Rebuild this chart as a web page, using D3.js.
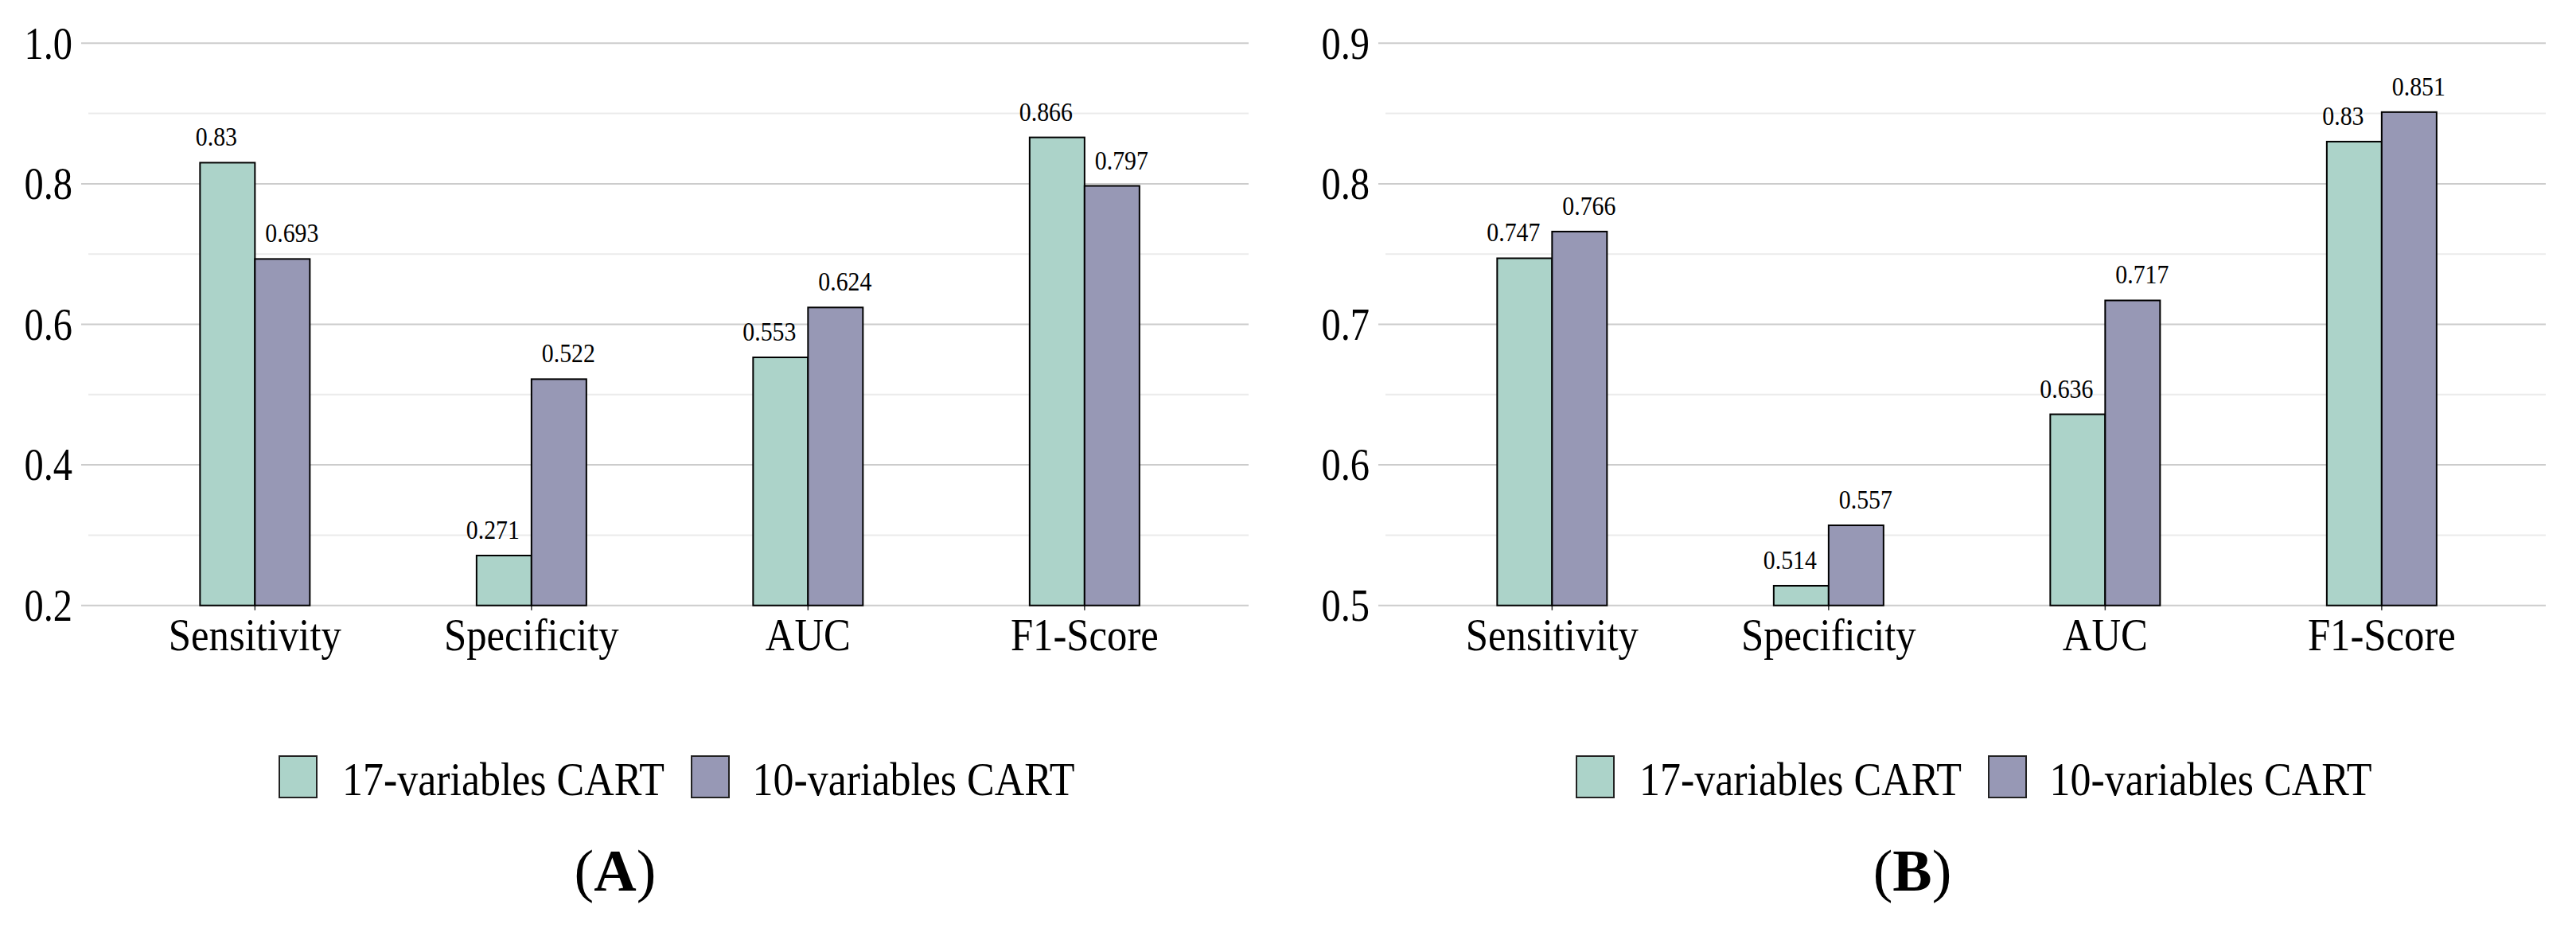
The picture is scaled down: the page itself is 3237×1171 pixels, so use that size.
<!DOCTYPE html>
<html>
<head>
<meta charset="utf-8">
<script src="https://cdn.jsdelivr.net/npm/d3@7"></script>
<style>
  html, body { margin: 0; padding: 0; background: #ffffff; }
  svg { display: block; }
</style>
</head>
<body>
<script>
// ---------- data ----------
const categories = ["Sensitivity", "Specificity", "AUC", "F1-Score"];
const seriesNames = ["17-variables CART", "10-variables CART"];
const valuesA17 = [0.83, 0.271, 0.553, 0.866];
const valuesA10 = [0.693, 0.522, 0.624, 0.797];
const valuesB17 = [0.747, 0.514, 0.636, 0.83];
const valuesB10 = [0.766, 0.557, 0.717, 0.851];
const domainA = [0.2, 1.0];
const domainB = [0.5, 0.9];
const ticksA = [0.2, 0.4, 0.6, 0.8, 1.0];
const minorTicksA = [0.3, 0.5, 0.7, 0.9];
const ticksB = [0.5, 0.6, 0.7, 0.8, 0.9];
const minorTicksB = [0.55, 0.65, 0.75, 0.85];
const panelLetters = ["A", "B"];

// ---------- style / layout ----------
const W = 3237, H = 1171;
const FONT = '"Liberation Serif", "Times New Roman", Times, serif';
const colors = ["#acd3c9", "#9798b5"];
const plotTop = 54.3, plotBottom = 760.7;
const gridLeft = 102, minorLeft = 111, gridRight = 1569;
const bandLeft = 146.6, bandRight = 1536.6;
const barW = 69;
const panelShift = 1630;

const svg = d3.select("body").append("svg")
  .attr("width", W).attr("height", H)
  .attr("viewBox", `0 0 ${W} ${H}`);
svg.append("rect").attr("width", W).attr("height", H).attr("fill", "#fff");

function sqText(sel, x, y, sx) {
  return sel.attr("x", 0).attr("y", 0)
    .attr("transform", `translate(${x},${y}) scale(${sx},1)`);
}

const panels = [
  { dx: 0, vals: [valuesA17, valuesA10], domain: domainA, ticks: ticksA, minor: minorTicksA, letter: panelLetters[0] },
  { dx: panelShift, vals: [valuesB17, valuesB10], domain: domainB, ticks: ticksB, minor: minorTicksB, letter: panelLetters[1] }
];

panels.forEach(p => {
  const g = svg.append("g").attr("transform", `translate(${p.dx},0)`);
  const y = d3.scaleLinear().domain(p.domain).range([plotBottom, plotTop]);
  const x = d3.scaleBand().domain(categories).range([bandLeft, bandRight]);
  const xs = d3.scaleBand().domain(seriesNames).range([0, 2 * barW]);
  const fmt = d3.format(".1f");

  // minor gridlines
  g.append("g").selectAll("line").data(p.minor).join("line")
    .attr("x1", minorLeft).attr("x2", gridRight)
    .attr("y1", d => y(d)).attr("y2", d => y(d))
    .attr("stroke", "#ebebeb").attr("stroke-width", 2);

  // major gridlines
  g.append("g").selectAll("line").data(p.ticks).join("line")
    .attr("x1", gridLeft).attr("x2", gridRight)
    .attr("y1", d => y(d)).attr("y2", d => y(d))
    .attr("stroke", "#cccccc").attr("stroke-width", 2);

  // y tick labels
  g.append("g").selectAll("text").data(p.ticks).join("text")
    .each(function (d) { sqText(d3.select(this), 91, y(d), 0.85); })
    .attr("text-anchor", "end")
    .attr("dominant-baseline", "central")
    .attr("font-family", FONT).attr("font-size", 57).attr("fill", "#000")
    .text(d => fmt(d));

  // x ticks
  g.append("g").selectAll("line").data(categories).join("line")
    .attr("x1", d => x(d) + x.bandwidth() / 2).attr("x2", d => x(d) + x.bandwidth() / 2)
    .attr("y1", plotBottom).attr("y2", plotBottom + 6)
    .attr("stroke", "#333").attr("stroke-width", 1.5);

  // bars
  const rows = [];
  seriesNames.forEach((s, si) => {
    categories.forEach((c, ci) => rows.push({ s, si, c, v: p.vals[si][ci] }));
  });
  const bx = d => x(d.c) + x.bandwidth() / 2 - barW + xs(d.s);
  g.append("g").selectAll("rect").data(rows).join("rect")
    .attr("x", bx)
    .attr("y", d => y(d.v))
    .attr("width", xs.bandwidth())
    .attr("height", d => y(p.domain[0]) - y(d.v))
    .attr("fill", d => colors[d.si])
    .attr("stroke", "#000").attr("stroke-width", 2);

  // value labels
  g.append("g").selectAll("text").data(rows).join("text")
    .each(function (d) {
      const cx = bx(d) + xs.bandwidth() / 2 + (d.si === 0 ? -14 : 12);
      sqText(d3.select(this), cx, y(d.v) - 21, 0.89);
    })
    .attr("text-anchor", "middle")
    .attr("font-family", FONT).attr("font-size", 33.5).attr("fill", "#000")
    .text(d => String(d.v));

  // x category labels
  g.append("g").selectAll("text").data(categories).join("text")
    .each(function (d) { sqText(d3.select(this), x(d) + x.bandwidth() / 2, 817, 0.89); })
    .attr("text-anchor", "middle")
    .attr("font-family", FONT).attr("font-size", 57).attr("fill", "#000")
    .text(d => d);

  // legend
  const legendItems = [
    { name: seriesNames[0], color: colors[0], sw: 351, tx: 430 },
    { name: seriesNames[1], color: colors[1], sw: 869, tx: 945.5 }
  ];
  const lg = g.append("g");
  lg.selectAll("rect").data(legendItems).join("rect")
    .attr("x", d => d.sw).attr("y", 950)
    .attr("width", 47).attr("height", 52)
    .attr("fill", d => d.color)
    .attr("stroke", "#222").attr("stroke-width", 2);
  lg.selectAll("text").data(legendItems).join("text")
    .each(function (d) { sqText(d3.select(this), d.tx, 999, 0.88); })
    .attr("font-family", FONT).attr("font-size", 59).attr("fill", "#000")
    .text(d => d.name);

  // panel letter
  const t = g.append("text")
    .attr("x", 773).attr("y", 1119)
    .attr("text-anchor", "middle")
    .attr("font-family", FONT).attr("font-size", 74).attr("fill", "#000");
  t.append("tspan").text("(");
  t.append("tspan").attr("font-weight", "bold").text(p.letter);
  t.append("tspan").text(")");
});
</script>
</body>
</html>
